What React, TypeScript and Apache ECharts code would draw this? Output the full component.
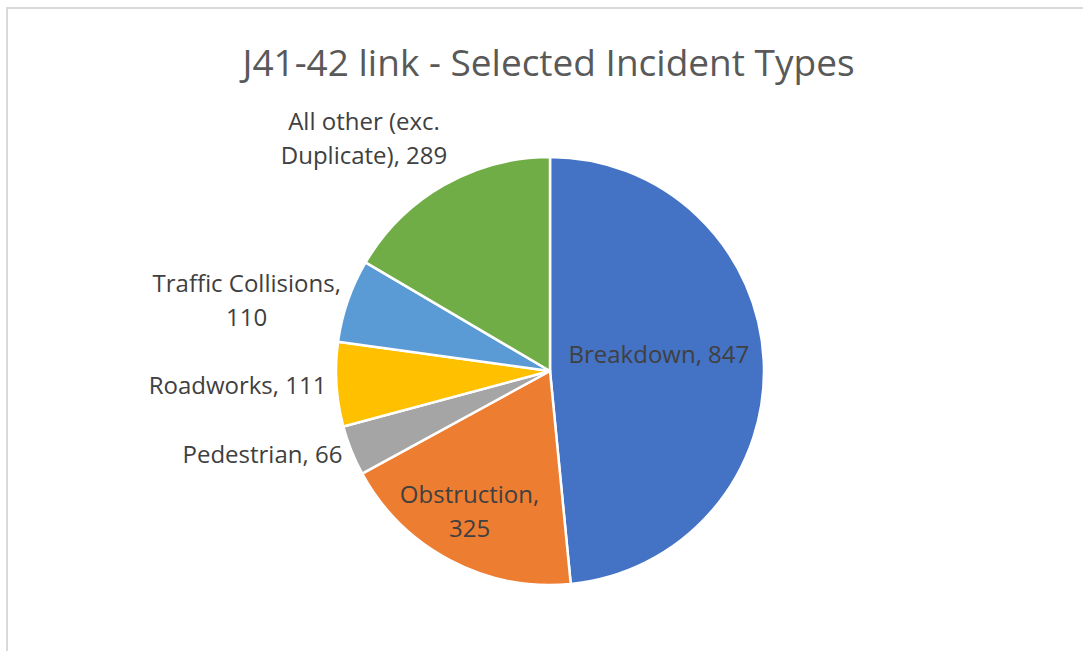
import React, { useEffect, useRef } from "react";
import * as echarts from "echarts";

const titleText = "J41-42 link - Selected Incident Types";
const categories = [
  "Breakdown",
  "Obstruction",
  "Pedestrian",
  "Roadworks",
  "Traffic Collisions",
  "All other (exc. Duplicate)",
];
const values = [847, 325, 66, 111, 110, 289];
const colors = ["#4472C4", "#ED7D31", "#A5A5A5", "#FFC000", "#5B9BD5", "#70AD47"];
// label text as printed (line breaks where the chart wraps)
const labelNames = [
  "Breakdown",
  "Obstruction",
  "Pedestrian",
  "Roadworks",
  "Traffic Collisions",
  "All other (exc.\nDuplicate)",
];
const labelBreakBeforeValue = [false, true, false, false, true, false];
const labelInside = [true, true, false, false, false, false];
// fine label nudges (px) relative to the library's own label placement
const labelShiftX = [-1, -29, -4, -5, -2, 8.5];
const labelShiftY = [-12, 42, 3, 0, -1, -47.5];

export default function App() {
  const ref = useRef<HTMLDivElement>(null);
  useEffect(() => {
    if (!ref.current) return;
    const chart = echarts.init(ref.current, null, { renderer: "svg" });
    const data = categories.map((c, i) => ({
      name: c,
      value: values[i],
      itemStyle: { color: colors[i] },
      label: {
        position: labelInside[i] ? "inside" : "outside",
        formatter: () =>
          labelNames[i] + "," + (labelBreakBeforeValue[i] ? "\n" : " ") + values[i],
      },
    }));
    chart.setOption({
      animation: false,
      backgroundColor: "#ffffff",
      graphic: [
        {
          type: "rect",
          shape: { x: 7, y: 8, width: 1300, height: 900 },
          style: { fill: "none", stroke: "#d9d9d9", lineWidth: 2 },
          silent: true,
        },
        {
          type: "text",
          x: 548.5,
          y: 61,
          silent: true,
          style: {
            text: titleText,
            fontFamily: "Open Sans",
            fontSize: 37,
            fontWeight: "normal",
            fill: "#595959",
            textAlign: "center",
            textVerticalAlign: "middle",
          },
        },
      ],
      series: [
        {
          type: "pie",
          center: [550, 371],
          radius: 214,
          startAngle: 90,
          clockwise: true,
          avoidLabelOverlap: false,
          emphasis: { disabled: true },
          itemStyle: { borderColor: "#ffffff", borderWidth: 2.5 },
          label: {
            fontFamily: "Open Sans",
            fontSize: 24,
            color: "#404040",
            lineHeight: 34,
            distanceToLabelLine: 5,
          },
          labelLine: { show: false, length: 0, length2: 0 },
          labelLayout: (p: any) => {
            const i = p.dataIndex;
            const r = p.labelRect;
            return {
              x: r.x + r.width / 2 + labelShiftX[i],
              y: r.y + r.height / 2 + labelShiftY[i],
              align: "center",
              verticalAlign: "middle",
            };
          },
          data,
        },
      ],
    });
    return () => chart.dispose();
  }, []);
  return (
    <div
      ref={ref}
      style={{ position: "fixed", left: 0, top: 0, width: 1083, height: 651 }}
    />
  );
}
